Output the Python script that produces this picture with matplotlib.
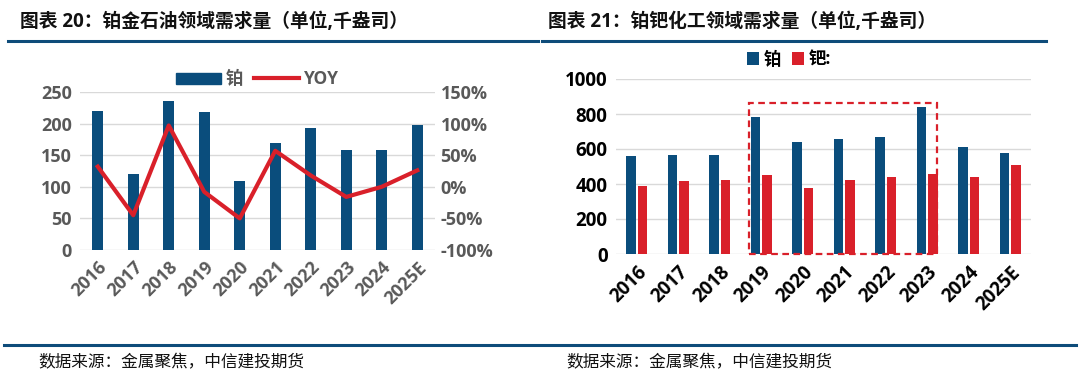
import numpy as np
import matplotlib
matplotlib.use("Agg")
import matplotlib.pyplot as plt
from matplotlib.patches import Rectangle, Patch
from matplotlib.lines import Line2D

plt.rcParams['font.family'] = ['Open Sans', 'Noto Sans CJK SC', 'DejaVu Sans']

years = ["2016", "2017", "2018", "2019", "2020", "2021", "2022", "2023", "2024", "2025E"]

# 图表20: 铂金石油领域需求量
oil_pt = [220, 120, 235, 219, 109, 169, 193, 159, 158, 198]
oil_yoy = [0.32, -0.45, 0.97, -0.08, -0.50, 0.57, 0.18, -0.16, 0.00, 0.26]

# 图表21: 铂钯化工领域需求量
chem_pt = [559, 568, 565, 785, 639, 660, 671, 838, 614, 580]
chem_pd = [388, 418, 424, 452, 380, 424, 441, 456, 441, 506]

BLUE = "#0A4D7C"
RED = "#D9202A"
GRID = "#D9D9D9"
GREY = "#595959"
LINE = "#0E4C7A"

fig = plt.figure(figsize=(10.8, 3.79), dpi=100)

# ---- titles and separators
fig.text(20 / 1080, 1 - 22 / 379, "图表 20：铂金石油领域需求量（单位,千盎司）",
         fontsize=13.5, fontweight="bold", va="center", ha="left", color="#111111")
fig.text(548 / 1080, 1 - 22 / 379, "图表 21：铂钯化工领域需求量（单位,千盎司）",
         fontsize=13.5, fontweight="bold", va="center", ha="left", color="#111111")
fig.add_artist(Line2D([8 / 1080, 538 / 1080], [1 - 41 / 379] * 2, color=LINE, lw=2.2))
fig.add_artist(Line2D([542 / 1080, 1046 / 1080], [1 - 41 / 379] * 2, color=LINE, lw=2.2))
fig.add_artist(Line2D([4 / 1080, 1076 / 1080], [1 - 345 / 379] * 2, color=LINE, lw=2.2))
fig.text(38 / 1080, 1 - 363 / 379, "数据来源：金属聚焦，中信建投期货",
         fontsize=12, va="center", ha="left", color="#111111", style="italic")
fig.text(566 / 1080, 1 - 363 / 379, "数据来源：金属聚焦，中信建投期货",
         fontsize=12, va="center", ha="left", color="#111111", style="italic")

x = np.arange(len(years))

# ---- left chart
ax1 = fig.add_axes([80 / 1080, 1 - 250 / 379, 355 / 1080, 158 / 379])
ax1.bar(x, oil_pt, width=0.32, color=BLUE, zorder=3)
ax1.set_ylim(0, 250)
ax1.set_yticks(np.arange(0, 251, 50))
ax1.set_xlim(-0.5, len(years) - 0.5)
ax1.set_xticks(x)
ax1.set_xticklabels(years, rotation=45, ha="right", rotation_mode="anchor")
ax1.grid(axis="y", color=GRID, lw=1, zorder=0)
for s in ax1.spines.values():
    s.set_visible(False)
ax1.tick_params(length=0, labelsize=13, colors=GREY, pad=6)
for lab in ax1.get_xticklabels() + ax1.get_yticklabels():
    lab.set_fontweight("bold")

ax1b = ax1.twinx()
ax1b.plot(x, oil_yoy, color=RED, lw=3, zorder=4)
ax1b.set_ylim(-1.0, 1.5)
ax1b.set_yticks(np.arange(-1.0, 1.51, 0.5))
ax1b.set_yticklabels([f"{v:.0f}%" for v in np.arange(-100, 151, 50)])
for s in ax1b.spines.values():
    s.set_visible(False)
ax1b.tick_params(length=0, labelsize=13, colors=GREY, pad=4)
for lab in ax1b.get_yticklabels():
    lab.set_fontweight("bold")

ax1.legend(handles=[Patch(color=BLUE), Line2D([], [], color=RED, lw=3)],
           labels=["铂", "YOY"], loc="lower center", bbox_to_anchor=(0.5, 0.98),
           ncol=2, frameon=False, handlelength=2.6, handleheight=0.6,
           columnspacing=0.6, handletextpad=0.3, borderaxespad=0,
           prop={"size": 12.5, "weight": "bold"}, labelcolor=GREY)

# ---- right chart
ax2 = fig.add_axes([616 / 1080, 1 - 254 / 379, 415 / 1080, 175 / 379])
w = 0.23
ax2.bar(x - 0.14, chem_pt, width=w, color=BLUE, zorder=3, label="铂")
ax2.bar(x + 0.14, chem_pd, width=w, color=RED, zorder=3, label="钯:")
ax2.set_ylim(0, 1000)
ax2.set_yticks(np.arange(0, 1001, 200))
ax2.set_xlim(-0.5, len(years) - 0.5)
ax2.set_xticks(x)
ax2.set_xticklabels(years, rotation=45, ha="right", rotation_mode="anchor")
ax2.grid(axis="y", color=GRID, lw=1, zorder=0)
for s in ax2.spines.values():
    s.set_visible(False)
ax2.tick_params(length=0, labelsize=13.5, colors="black", pad=6)
for lab in ax2.get_xticklabels() + ax2.get_yticklabels():
    lab.set_fontweight("bold")

# highlighted 2019-2023 period
i0, i1 = years.index("2019"), years.index("2023")
box = Rectangle((i0 - 0.29, 0), (i1 + 0.23) - (i0 - 0.29), 860, fill=False,
                edgecolor=RED, lw=1.6, ls=(0, (3, 2)), zorder=5, clip_on=False)
ax2.add_patch(box)

ax2.legend(loc="lower center", bbox_to_anchor=(0.417, 1.02), ncol=2, frameon=False,
           handlelength=0.7, handleheight=0.7, columnspacing=0.6, handletextpad=0.3,
           borderaxespad=0, prop={"size": 12.5, "weight": "bold"})

fig.savefig("out.png", dpi=100)
